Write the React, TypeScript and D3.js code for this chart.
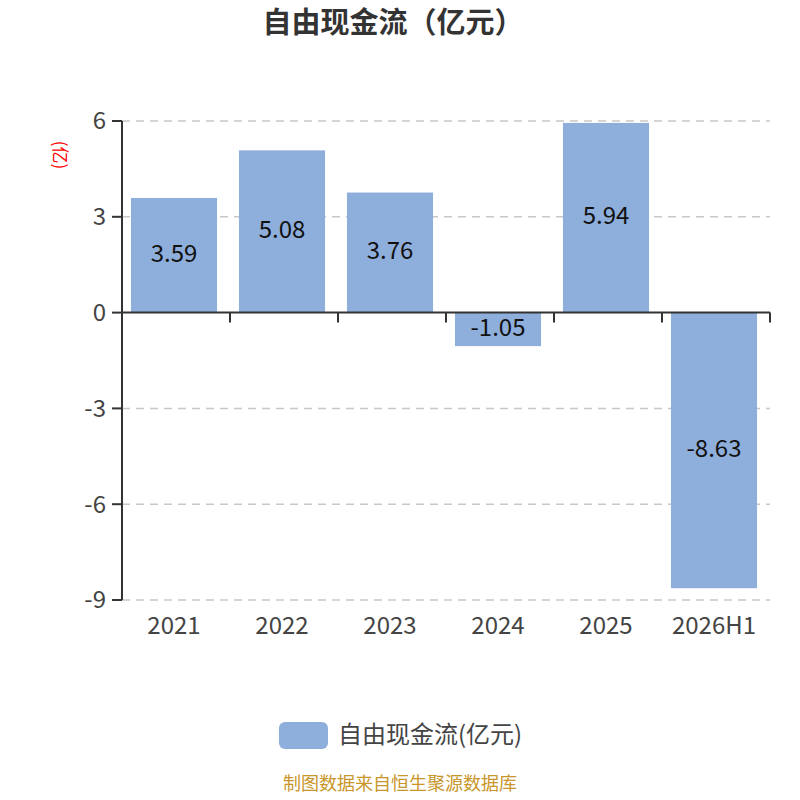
import React, { useEffect, useRef } from 'react';
import * as d3 from 'd3';

const categories: string[] = ['2021', '2022', '2023', '2024', '2025', '2026H1'];
const values: number[] = [3.59, 5.08, 3.76, -1.05, 5.94, -8.63];
const yTicks: number[] = [6, 3, 0, -3, -6, -9];
const seriesName = '自由现金流(亿元)';

const font = '"Noto Sans CJK SC", "Noto Sans", sans-serif';
const barColor = '#8eaedb';

export default function App(): JSX.Element {
	const ref = useRef<SVGSVGElement | null>(null);

	useEffect(() => {
		if (!ref.current) return;
		const svg = d3.select(ref.current);
		svg.selectAll('*').remove();

		const left = 122, right = 770, top = 121, bottom = 600;
		const x = d3.scaleBand<string>().domain(categories).range([left, right]).padding(0);
		const barOffset = x.step() * 0.083;
		const barWidth = x.step() * 0.797;
		const y = d3.scaleLinear().domain([-9, 6]).range([bottom, top]);

		svg.append('text').attr('x', 393).attr('y', 23).attr('dy', '0.35em').attr('text-anchor', 'middle')
			.attr('fill', '#333').style('font-family', font).style('font-size', '29px').style('font-weight', 'bold')
			.text('自由现金流（亿元）');

		// grid
		svg.append('g').selectAll('line').data(yTicks.filter((t) => t !== 0)).join('line')
			.attr('x1', left).attr('x2', right).attr('y1', (d) => y(d)).attr('y2', (d) => y(d))
			.attr('stroke', '#c8c8c8').attr('stroke-width', 1.5).attr('stroke-dasharray', '8,6');

		// bars
		svg.append('g').selectAll('rect').data(values).join('rect')
			.attr('x', (_, i) => x(categories[i])! + barOffset)
			.attr('width', barWidth)
			.attr('y', (d) => y(Math.max(0, d)))
			.attr('height', (d) => Math.abs(y(d) - y(0)))
			.attr('fill', barColor);

		svg.append('g').selectAll('text').data(values).join('text')
			.attr('x', (_, i) => x(categories[i])! + barOffset + barWidth / 2)
			.attr('y', (d) => (y(d) + y(0)) / 2 - 2)
			.attr('dy', '0.35em').attr('text-anchor', 'middle').attr('fill', '#111')
			.style('font-family', font).style('font-size', '24px')
			.text((d) => d.toFixed(2));

		// y axis
		const yAxis = svg.append('g');
		yAxis.append('line').attr('x1', left).attr('x2', left).attr('y1', top).attr('y2', bottom)
			.attr('stroke', '#333').attr('stroke-width', 2);
		yAxis.selectAll('line.tick').data(yTicks).join('line').attr('class', 'tick')
			.attr('x1', left - 10).attr('x2', left).attr('y1', (d) => y(d)).attr('y2', (d) => y(d))
			.attr('stroke', '#333').attr('stroke-width', 2);
		yAxis.selectAll('text').data(yTicks).join('text')
			.attr('x', left - 16).attr('y', (d) => y(d)).attr('dy', '0.35em').attr('text-anchor', 'end')
			.attr('fill', '#444').style('font-family', font).style('font-size', '24px')
			.text((d) => String(d));

		svg.append('text').attr('transform', 'translate(60,155) rotate(90)').attr('text-anchor', 'middle')
			.attr('dy', '0.35em').attr('fill', '#ff0000').style('font-family', font).style('font-size', '17px')
			.text('(亿)');

		// x axis at zero
		const xAxis = svg.append('g');
		xAxis.append('line').attr('x1', left).attr('x2', right).attr('y1', y(0)).attr('y2', y(0))
			.attr('stroke', '#333').attr('stroke-width', 2);
		const bounds = categories.map((c) => x(c)!).concat([right]);
		xAxis.selectAll('line.tick').data(bounds).join('line').attr('class', 'tick')
			.attr('x1', (d) => d).attr('x2', (d) => d).attr('y1', y(0)).attr('y2', y(0) + 10)
			.attr('stroke', '#333').attr('stroke-width', 2);
		xAxis.selectAll('text').data(categories).join('text')
			.attr('x', (d) => x(d)! + barOffset + barWidth / 2).attr('y', 626).attr('dy', '0.35em')
			.attr('text-anchor', 'middle').attr('fill', '#444').style('font-family', font).style('font-size', '24px')
			.text((d) => d);

		// legend
		svg.append('rect').attr('x', 279).attr('y', 722).attr('width', 49).attr('height', 27).attr('rx', 6)
			.attr('fill', barColor);
		svg.append('text').attr('x', 338).attr('y', 735).attr('dy', '0.35em').attr('fill', '#444')
			.style('font-family', font).style('font-size', '24px').text(seriesName);

		svg.append('text').attr('x', 400).attr('y', 790).attr('text-anchor', 'middle').attr('fill', '#c8962a')
			.style('font-family', font).style('font-size', '18px').text('制图数据来自恒生聚源数据库');
	}, []);

	return (
		<div style={{ position: 'absolute', left: 0, top: 0 }}>
			<svg ref={ref} width={800} height={800} style={{ display: 'block', background: '#fff' }} />
		</div>
	);
}
